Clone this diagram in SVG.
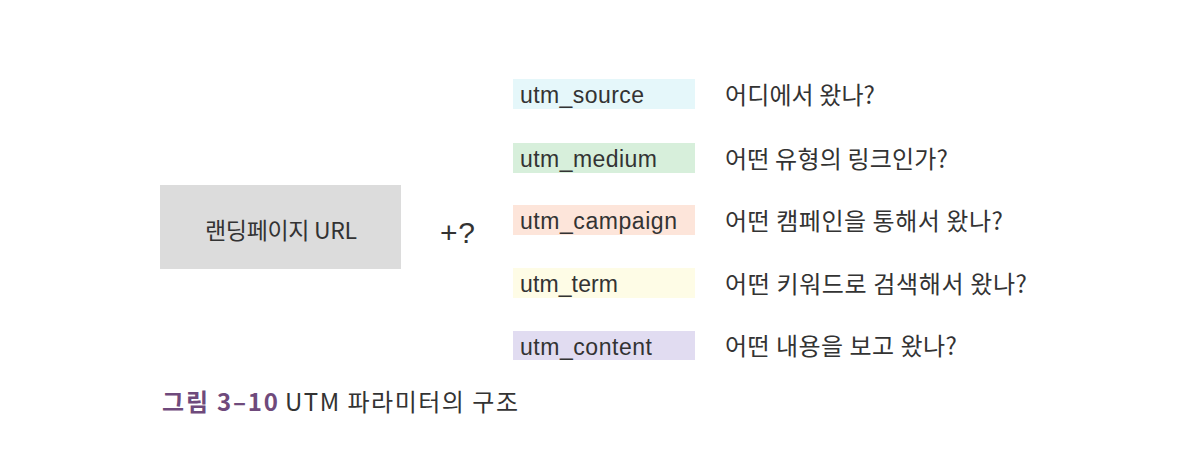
<svg xmlns="http://www.w3.org/2000/svg" width="1180" height="450" viewBox="0 0 1180 450">
<style>
.lat{font-family:"Liberation Sans","Noto Sans CJK KR",sans-serif;fill:#333;}
.kr{font-family:"Noto Sans CJK KR","Noto Sans",sans-serif;fill:#333;}
.tag{font-size:23px;}
.q{font-size:24px;}
</style>
<rect width="1180" height="450" fill="#ffffff"/>
<g id="landing">
<rect x="160" y="185" width="241" height="84" fill="#dcdcdc"/>
<text x="205" y="239" class="kr" font-size="23" textLength="152" lengthAdjust="spacing">랜딩페이지 URL</text>
</g>
<g id="plus">
<text x="440" y="243" class="lat" font-size="30" textLength="35" lengthAdjust="spacing">+?</text>
</g>
<g id="source">
<rect x="513" y="79" width="182" height="30" fill="#e5f7fa"/>
<text x="520" y="103" class="lat tag" textLength="124" lengthAdjust="spacing">utm_source</text>
<text x="725" y="104" class="kr q" textLength="150" lengthAdjust="spacing">어디에서 왔나?</text>
</g>
<g id="medium">
<rect x="513" y="143" width="182" height="30" fill="#d7efdb"/>
<text x="520" y="167" class="lat tag" textLength="137" lengthAdjust="spacing">utm_medium</text>
<text x="725" y="168" class="kr q" textLength="223" lengthAdjust="spacing">어떤 유형의 링크인가?</text>
</g>
<g id="campaign">
<rect x="513" y="205" width="182" height="30" fill="#fde5da"/>
<text x="520" y="229" class="lat tag" textLength="157" lengthAdjust="spacing">utm_campaign</text>
<text x="725" y="230" class="kr q" textLength="278" lengthAdjust="spacing">어떤 캠페인을 통해서 왔나?</text>
</g>
<g id="term">
<rect x="513" y="268" width="182" height="30" fill="#fefce6"/>
<text x="520" y="292" class="lat tag" textLength="98" lengthAdjust="spacing">utm_term</text>
<text x="725" y="293" class="kr q" textLength="302" lengthAdjust="spacing">어떤 키워드로 검색해서 왔나?</text>
</g>
<g id="content">
<rect x="513" y="331" width="182" height="29" fill="#e1dcf1"/>
<text x="520" y="355" class="lat tag" textLength="132" lengthAdjust="spacing">utm_content</text>
<text x="725" y="355" class="kr q" textLength="232" lengthAdjust="spacing">어떤 내용을 보고 왔나?</text>
</g>
<g id="connectors"></g>
<g id="caption">
<text x="162" y="411" font-family="Noto Sans CJK KR,sans-serif" font-size="24" font-weight="bold" fill="#6f4a7c" textLength="116" lengthAdjust="spacing">그림 3–10</text>
<text x="285" y="411" font-family="Noto Sans CJK KR,sans-serif" font-size="24" fill="#333" textLength="233" lengthAdjust="spacing">UTM 파라미터의 구조</text>
</g>
</svg>
